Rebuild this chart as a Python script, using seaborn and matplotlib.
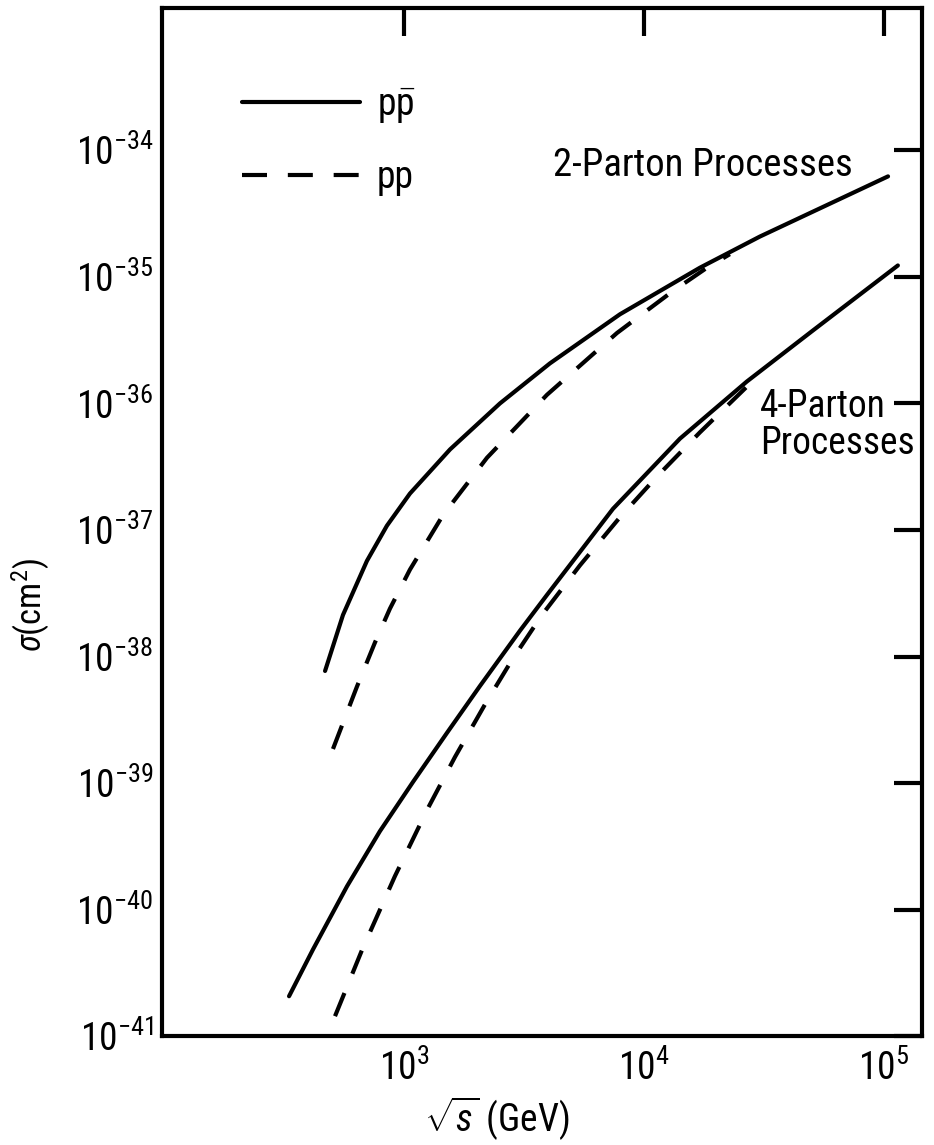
import matplotlib
matplotlib.use('Agg')
import matplotlib.pyplot as plt
from matplotlib.lines import Line2D
from matplotlib.ticker import FixedLocator, LogFormatterSciNotation, NullLocator
import pandas as pd
import seaborn as sns

# values: sqrt(s) in GeV, sigma in cm^2
ppbar2_s = [469, 557, 701, 849, 1059, 1556, 2512, 4055, 7943, 17100, 30400, 104000]
ppbar2_sigma = [7.69e-39, 2.13e-38, 5.70e-38, 1.08e-37, 1.94e-37, 4.33e-37, 1.0e-36,
                2.07e-36, 5.06e-36, 1.18e-35, 2.08e-35, 6.22e-35]

pp2_s = [506, 637, 757, 874, 1059, 1454, 2218, 3945, 7720, 13090, 18300, 22800]
pp2_sigma = [1.86e-39, 5.79e-39, 1.29e-38, 2.39e-38, 4.86e-38, 1.31e-37, 3.72e-37,
             1.17e-36, 3.60e-36, 7.63e-36, 1.18e-35, 1.51e-35]

ppbar4_s = [332, 418, 579, 794, 1090, 1510, 2073, 3043, 3945, 7430, 14130, 26850, 50600, 114300]
ppbar4_sigma = [2.07e-41, 4.86e-41, 1.53e-40, 4.17e-40, 1.02e-39, 2.49e-39, 5.85e-39,
                1.60e-38, 3.07e-38, 1.47e-37, 5.27e-37, 1.49e-36, 3.77e-36, 1.23e-35]

pp4_s = [516, 668, 917, 1259, 1632, 2175, 2818, 3758, 5410, 7943, 11320, 17100, 27100]
pp4_sigma = [1.44e-41, 4.78e-41, 1.84e-40, 6.34e-40, 1.61e-39, 4.18e-39, 9.40e-39,
             2.13e-38, 5.25e-38, 1.26e-37, 2.64e-37, 5.90e-37, 1.38e-36]

xticks = [1e3, 1e4, 1e5]
yticks = [1e-41, 1e-40, 1e-39, 1e-38, 1e-37, 1e-36, 1e-35, 1e-34]

curves = [
    ('2-parton', 'ppbar', ppbar2_s, ppbar2_sigma),
    ('2-parton', 'pp', pp2_s, pp2_sigma),
    ('4-parton', 'ppbar', ppbar4_s, ppbar4_sigma),
    ('4-parton', 'pp', pp4_s, pp4_sigma),
]
df = pd.concat([
    pd.DataFrame({'sqrt_s': s, 'sigma': sig, 'process': proc, 'beam': beam,
                  'curve': f'{proc} {beam}'})
    for proc, beam, s, sig in curves
], ignore_index=True)

sns.set_theme(style='white')
plt.rcParams['font.family'] = ['Roboto Condensed', 'Liberation Sans Narrow', 'DejaVu Sans']
plt.rcParams['mathtext.fontset'] = 'custom'
plt.rcParams['mathtext.rm'] = 'Roboto Condensed'
plt.rcParams['mathtext.it'] = 'Roboto Condensed:italic'
plt.rcParams['text.color'] = 'black'

fig = plt.figure(figsize=(9.34, 11.45), dpi=100)
ax = fig.add_axes([0.173, 0.095, 0.814, 0.898])

dash = (6, 5)
sns.lineplot(
    data=df, x='sqrt_s', y='sigma', style='beam', units='curve',
    dashes={'ppbar': '', 'pp': dash}, color='black', linewidth=3,
    estimator=None, sort=False, legend=False, ax=ax
)

ax.set_xscale('log')
ax.set_yscale('log')
ax.set_xlim(10 ** 1.99, 10 ** 5.158)
ax.set_ylim(1e-41, 10 ** -32.876)

for axis, ticks in ((ax.xaxis, xticks), (ax.yaxis, yticks)):
    axis.set_major_locator(FixedLocator(ticks))
    axis.set_minor_locator(NullLocator())
    axis.set_major_formatter(LogFormatterSciNotation())

ax.tick_params(which='major', direction='in', length=20, width=3, color='black',
               top=True, right=True, labelsize=27, labelcolor='black')
ax.tick_params(axis='x', pad=10)
ax.tick_params(axis='y', pad=6)
for sp in ax.spines.values():
    sp.set_linewidth(3)
    sp.set_color('black')

ax.set_xlabel(r'$\sqrt{s}$ (GeV)', fontsize=27, color='black')
ax.set_ylabel(r'$\sigma$(cm$^2$)', fontsize=25, color='black')
ax.xaxis.set_label_coords(0.441, -0.057)
ax.yaxis.set_label_coords(-0.144, 0.419)

ax.text(4180, 7.6e-35, '2-Parton Processes', fontsize=28, ha='left', va='center', color='black')
ax.text(30400, 9.4e-37, '4-Parton', fontsize=27, ha='left', va='center', color='black')
ax.text(30400, 4.8e-37, 'Processes', fontsize=27, ha='left', va='center', color='black')

handles = [
    Line2D([], [], color='black', linewidth=3),
    Line2D([], [], color='black', linewidth=3, dashes=dash),
]
ax.legend(handles, [r'p$\bar{\rm p}$', 'pp'], loc='upper left',
          bbox_to_anchor=(0.259, 0.925), bbox_transform=fig.transFigure,
          frameon=False, fontsize=27, handlelength=3.15, handletextpad=0.45,
          labelspacing=0.9, borderpad=0, borderaxespad=0, labelcolor='black')

fig.savefig('out.png', dpi=100)
